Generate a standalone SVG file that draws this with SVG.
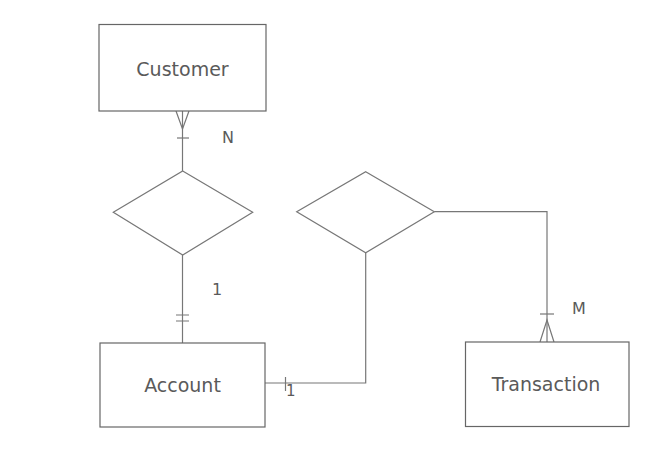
<svg xmlns="http://www.w3.org/2000/svg" width="649" height="467" viewBox="0 0 649 467">
<style>
.box{fill:#fff;stroke:#666;stroke-width:1.2}
.rel{fill:#fff;stroke:#777;stroke-width:1.2}
.ln{fill:none;stroke:#777;stroke-width:1.2}
.t{font-family:"DejaVu Sans",sans-serif;font-size:19px;fill:#5a5a5a;text-anchor:middle}
.lbl{font-family:"DejaVu Sans",sans-serif;font-size:16px;fill:#5a5a5a}
</style>
<rect width="649" height="467" fill="#fff"/>
<g id="connectors">
<path class="ln" d="M182.5,111 V171"/>
<path class="ln" d="M176,111 L182.5,129 L189,111"/>
<path class="ln" d="M177,138 H189"/>
<path class="ln" d="M182.5,255 V343"/>
<path class="ln" d="M176,315 H189 M176,321 H189"/>
<path class="ln" d="M434.3,211.7 H547 V342"/>
<path class="ln" d="M540,342 L547,320 L554,342"/>
<path class="ln" d="M540,314 H554"/>
<path class="ln" d="M365.7,252.7 V383 H265"/>
<path class="ln" d="M285.5,377 V391"/>
<text class="lbl" x="222" y="143">N</text>
<text class="lbl" x="212" y="295">1</text>
<text class="lbl" x="572" y="314">M</text>
<text class="lbl" x="286" y="396" style="font-size:15px">1</text>
</g>
<g id="customer">
<rect class="box" x="99" y="24.5" width="167" height="86.5"/>
<text class="t" x="182.5" y="75.5">Customer</text>
</g>
<g id="rel1">
<polygon class="rel" points="182.7,171 252.7,212.3 182.7,255 113.3,212.3"/>
</g>
<g id="rel2">
<polygon class="rel" points="365.7,171.7 434.3,211.7 365.7,252.7 296.7,211.7"/>
</g>
<g id="account">
<rect class="box" x="100" y="343" width="165" height="84"/>
<text class="t" x="182.5" y="391.5">Account</text>
</g>
<g id="transaction">
<rect class="box" x="465.5" y="342" width="163.5" height="84.5"/>
<text class="t" x="546" y="391">Transaction</text>
</g>
</svg>
